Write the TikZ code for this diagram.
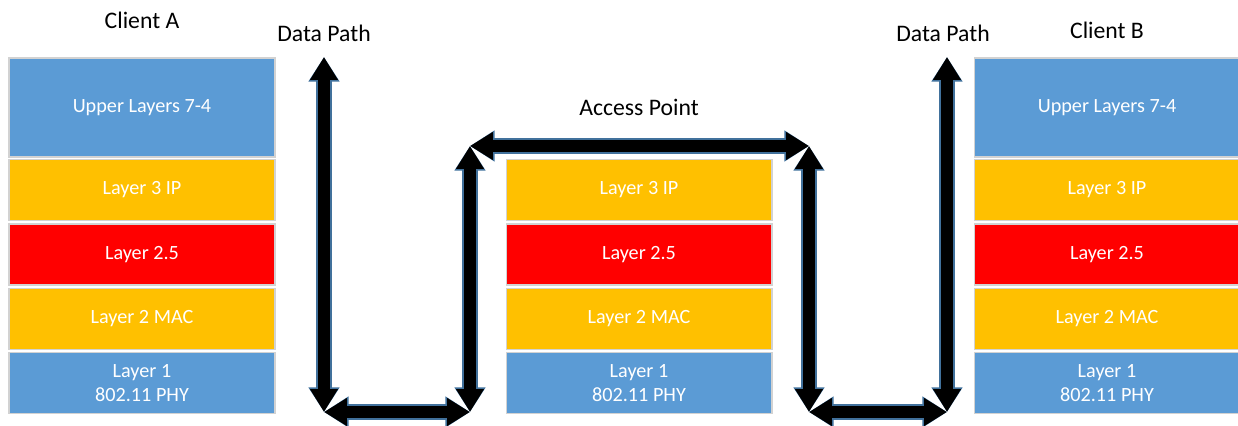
\documentclass[tikz,border=0pt]{standalone}
\usepackage{fontspec}
\setmainfont{Carlito}
\usetikzlibrary{arrows.meta}

\definecolor{upblue}{HTML}{5B9BD5}
\definecolor{amber}{HTML}{FFC000}
\definecolor{edgeblue}{HTML}{41719C}

\tikzset{
    layer/.style={draw=gray!35, line width=0.6pt, text=white, font=\fontsize{11.5}{13.4}\selectfont,
        minimum width=5.32cm, minimum height=1.22cm, inner sep=0pt, align=center},
    upper/.style={layer, fill=upblue, minimum height=1.98cm},
    title/.style={font=\fontsize{13.5}{15}\selectfont},
    dpath/.style={line width=7pt, draw=black,
        {Triangle[length=13pt,width=15pt]}-{Triangle[length=13pt,width=15pt]},
        preaction={draw=edgeblue, line width=8.6pt,
            {Triangle[length=14pt,width=16.8pt]}-{Triangle[length=14pt,width=16.8pt]}}},
}

\begin{document}
\begin{tikzpicture}[x=0.02cm, y=-0.02cm]
    \useasboundingbox (0,0) rectangle (1238,426);
    % layer stacks
    \node[upper] (ca-up) at (142,107.5) {Upper Layers 7-4};
    \node[upper] (cb-up) at (1107,107.5) {Upper Layers 7-4};
    \foreach \s/\x in {ca/142, ap/639, cb/1107} {
        \node[layer, fill=amber] (\s-l3) at (\x,190) {Layer 3 IP};
        \node[layer, fill=red] (\s-l25) at (\x,254.5) {Layer 2.5};
        \node[layer, fill=amber] (\s-l2) at (\x,319) {Layer 2 MAC};
        \node[layer, fill=upblue] (\s-l1) at (\x,383) {Layer 1\\802.11 PHY};
    }
    \node[title] (ca) at (142,20) {Client A};
    \node[title] (ap) at (639,107) {Access Point};
    \node[title] (cb) at (1107,30) {Client B};
    \node[title] (dp-a) at (324,33) {Data Path};
    \node[title] (dp-b) at (943,33) {Data Path};
    % data path corners
    \coordinate (p1) at (324,57);
    \coordinate (p2) at (324,412);
    \coordinate (p3) at (470,412);
    \coordinate (p4) at (470,146);
    \coordinate (p5) at (809,146);
    \coordinate (p6) at (809,412);
    \coordinate (p7) at (947,412);
    \coordinate (p8) at (947,57);
    \draw[dpath] (p1) -- (p2);
    \draw[dpath] (p2) -- (p3);
    \draw[dpath] (p3) -- (p4);
    \draw[dpath] (p4) -- (p5);
    \draw[dpath] (p5) -- (p6);
    \draw[dpath] (p6) -- (p7);
    \draw[dpath] (p7) -- (p8);
\end{tikzpicture}
\end{document}
